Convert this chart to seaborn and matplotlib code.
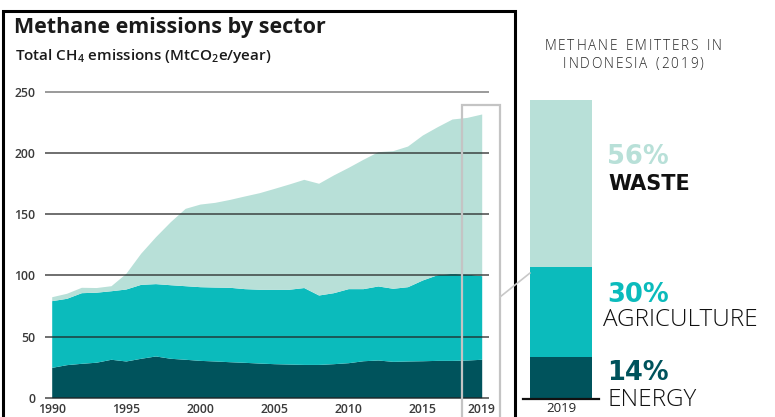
import numpy as np
import pandas as pd
import matplotlib
matplotlib.use("Agg")
import matplotlib.pyplot as plt
import seaborn as sns

# Methane emissions by sector, Indonesia (MtCO2e/year)
years = list(range(1990, 2020))
energy = [24.8, 27.0, 28.1, 29.0, 31.4, 30.0, 32.2, 34.1, 32.2, 31.4,
          30.5, 30.0, 29.4, 28.9, 28.3, 27.8, 27.5, 27.2, 27.2, 27.8,
          28.6, 30.2, 30.8, 29.7, 30.0, 30.2, 30.5, 30.5, 30.8, 31.4]
agriculture = [54.5, 54.2, 57.7, 57.2, 56.0, 58.8, 60.4, 59.1, 60.1, 60.1,
               60.2, 60.4, 60.8, 60.2, 60.3, 60.8, 61.1, 62.8, 56.7, 58.0,
               60.5, 58.9, 60.5, 59.7, 60.7, 66.0, 70.0, 71.1, 70.2, 68.3]
waste = [3.2, 4.1, 4.4, 3.8, 4.1, 12.8, 25.4, 38.3, 51.5, 63.2,
         67.5, 69.2, 71.8, 75.7, 78.9, 82.4, 86.0, 88.4, 91.3, 96.2,
         99.1, 105.7, 109.7, 112.4, 114.9, 118.4, 120.9, 126.1, 128.0, 132.1]

y_ticks = [0, 50, 100, 150, 200, 250]
x_ticks = [1990, 1995, 2000, 2005, 2010, 2015, 2019]

# 2019 shares (%)
sectors = ["ENERGY", "AGRICULTURE", "WASTE"]
shares_2019 = [14, 30, 56]

c_energy = "#00535c"
c_agri = "#0bbbbc"
c_waste = "#b8e0d8"
colors = [c_energy, c_agri, c_waste]

sns.set_theme(style="white")
plt.rcParams["font.family"] = ["Open Sans", "DejaVu Sans"]
plt.rcParams["mathtext.fontset"] = "custom"
plt.rcParams["mathtext.rm"] = "Open Sans:semibold"
plt.rcParams["mathtext.it"] = "Open Sans:semibold"
plt.rcParams["mathtext.bf"] = "Open Sans:bold"

W, H = 775, 417
fig = plt.figure(figsize=(W / 100, H / 100), dpi=100)
fig.patch.set_facecolor("white")


def fx(x):
    return x / W


def fy(y):
    return 1 - y / H


def axes_px(x0, y0, x1, y1):
    return fig.add_axes([fx(x0), fy(y1), fx(x1 - x0), (y1 - y0) / H])


# ---------------- stacked area chart ----------------
ax = axes_px(45, 91.7 - 2.45, 489, 397.7 + 2.45)
ax.stackplot(years, energy, agriculture, waste, colors=colors,
             linewidth=0, zorder=1)
ax.set_xlim(1990 - 6.7 / 14.83, 2019 + 7.3 / 14.83)
ax.set_ylim(-2, 252)
for v in y_ticks:
    if v == 250:
        ax.axhline(v, color="#9a9a9a", lw=1.4, zorder=3)
    else:
        ax.axhline(v, color="#222222", lw=1.4, alpha=0.65, zorder=3)
ax.set_yticks(y_ticks)
ax.set_xticks(x_ticks)
ax.tick_params(length=0, labelsize=8.8, labelcolor="#3a3a3a", pad=2)
ax.tick_params(axis="y", pad=7)
for lab in ax.get_xticklabels() + ax.get_yticklabels():
    lab.set_fontweight(600)
for s in ax.spines.values():
    s.set_visible(False)
ax.patch.set_alpha(0)

# ---------------- 2019 share bar ----------------
bx = axes_px(523, 100, 599, 399)
cum = np.cumsum(shares_2019)
bar_df = pd.DataFrame({"year": ["2019"] * 3, "share": cum, "sector": sectors})
for i in [2, 1, 0]:
    sns.barplot(data=bar_df.iloc[[i]], x="year", y="share", color=colors[i],
                width=1.0, saturation=1, linewidth=0, ax=bx)
bx.set_xlim(-0.616, 0.616)
bx.set_ylim(0, 100)
bx.set_yticks([])
bx.set_xlabel("")
bx.set_ylabel("")
bx.tick_params(axis="x", length=0, labelsize=9.5, labelcolor="#222222", pad=2)
for s in ["top", "left", "right"]:
    bx.spines[s].set_visible(False)
bx.spines["bottom"].set_color("#111111")
bx.spines["bottom"].set_linewidth(1.6)
bx.patch.set_alpha(0)

# ---------------- frame, highlight box and connector ----------------
overlay = fig.add_axes([0, 0, 1, 1], zorder=5)
overlay.set_xlim(0, W)
overlay.set_ylim(H, 0)
overlay.axis("off")
overlay.patch.set_alpha(0)
overlay.plot([3, 3, 515, 515], [H + 5, 11, 11, H + 5], color="black", lw=2.2,
             solid_joinstyle="miter")
overlay.plot([461.7, 461.7, 500, 500], [H + 5, 105, 105, H + 5],
             color="#c4c4c4", lw=1.6, solid_joinstyle="miter")
overlay.plot([500, 530], [297, 273], color="#c8c8c8", lw=1.2)

# ---------------- titles ----------------
fig.text(fx(14), fy(27), "Methane emissions by sector", fontsize=15.5,
         fontweight="bold", color="#1a1a1a", va="center", ha="left")
fig.text(fx(15), fy(56), r"Total CH$_4$ emissions (MtCO$_2$e/year)",
         fontsize=11, fontweight=600, color="#1a1a1a", va="center",
         ha="left")

renderer = fig.canvas.get_renderer()


def spaced(text, xc, yc, size, spacing):
    """Draw text centred at (xc, yc) pixels with extra letter spacing."""
    parts = []
    widths = []
    for ch in text:
        t = fig.text(0, 0, ch if ch != " " else "n", fontsize=size,
                     fontweight="light", color="#222222",
                     va="center", ha="left")
        w = t.get_window_extent(renderer).width
        if ch == " ":
            w *= 0.6
            t.set_text("")
        parts.append(t)
        widths.append(w)
    total = sum(widths) + spacing * (len(text) - 1)
    x = xc - total / 2
    for t, w in zip(parts, widths):
        t.set_position((fx(x), fy(yc)))
        x += w + spacing


spaced("METHANE EMITTERS IN", 633, 47, 9.8, 1.8)
spaced("INDONESIA (2019)", 633, 65, 9.8, 1.8)

# ---------------- bar annotations ----------------
label_font = ["DejaVu Sans"]
pct_y = {"WASTE": 157, "AGRICULTURE": 295, "ENERGY": 373}
name_y = {"WASTE": 184, "AGRICULTURE": 320, "ENERGY": 400}
name_x = {"WASTE": 608, "AGRICULTURE": 603, "ENERGY": 607}
for name, share, col in zip(sectors, shares_2019, colors):
    fig.text(fx(607), fy(pct_y[name]), f"{share}%", fontsize=18.5,
             fontweight="bold", color=col, va="center", ha="left",
             family=label_font)
    fig.text(fx(name_x[name]), fy(name_y[name]), name,
             fontsize=15 if name == "WASTE" else 17.5,
             fontweight="bold" if name == "WASTE" else "light",
             color="#111111", va="center", ha="left",
             family=["Open Sans", "DejaVu Sans"] if name != "WASTE" else label_font)

fig.savefig("out.png", dpi=100)
